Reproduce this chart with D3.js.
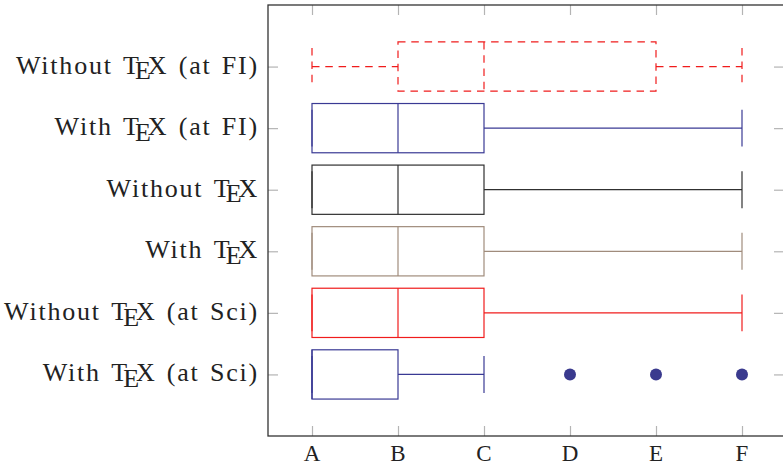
<!DOCTYPE html>
<html>
<head>
<meta charset="utf-8">
<script src="https://cdn.jsdelivr.net/npm/d3@7"></script>
<style>
  html, body { margin: 0; padding: 0; background: #fff; }
  svg { display: block; }
  .lbl { font-family: "Liberation Serif", "Times New Roman", serif; font-size: 26px; fill: #222; letter-spacing: 1.8px; word-spacing: 2px; }
  .tlbl { font-family: "Liberation Serif", "Times New Roman", serif; font-size: 23px; fill: #222; }
</style>
</head>
<body>
<svg id="chart" width="783" height="467"></svg>
<script>
// ---- data (bottom row first) ----
const rowPrefix = ["With ", "Without ", "With ", "Without ", "With ", "Without "];
const rowSuffix = [" (at Sci)", " (at Sci)", "", "", " (at FI)", " (at FI)"];
const xTickLabels = ["A", "B", "C", "D", "E", "F"];
const xTickValues = [1, 2, 3, 4, 5, 6];
const lowerWhisker  = [1, 1, 1, 1, 1, 1];
const lowerQuartile = [1, 1, 1, 1, 1, 2];
const median        = [1, 2, 2, 2, 2, 3];
const upperQuartile = [2, 3, 3, 3, 3, 5];
const upperWhisker  = [3, 6, 6, 6, 6, 6];
const outliers      = [[4, 5, 6], [], [], [], [], []];

// ---- styles ----
const rowColor = ["#3a3a94", "#f01c1c", "#a08c7c", "#303030", "#3a3a94", "#f01c1c"];
const rowDash  = [null, null, null, null, null, "7.5,5.8"];

const mLeft = 268, mTop = 5, mBottom = 436, mRight = 784;
const svg = d3.select("#chart");

const x = d3.scaleLinear().domain([0.5, 6.5]).range([mLeft + 1, mRight + 1]);
const y = d3.scaleLinear().domain([0, 7]).range([mBottom, mTop]);
const rows = d3.range(rowPrefix.length);
const rowPos = rows.map(i => i + 1);

const tickLen = 10, tickColor = "#b4b4b4";

// ticks (inward, on all four sides)
const axB = d3.axisBottom(x).tickValues(xTickValues).tickSize(-tickLen).tickFormat("");
const axT = d3.axisTop(x).tickValues(xTickValues).tickSize(-tickLen).tickFormat("");
const axL = d3.axisLeft(y).tickValues(rowPos).tickSize(-tickLen).tickFormat("");
const axR = d3.axisRight(y).tickValues(rowPos).tickSize(-tickLen).tickFormat("");
[[axB, `translate(0,${mBottom})`], [axT, `translate(0,${mTop})`], [axL, `translate(${mLeft},0)`], [axR, `translate(${mRight},0)`]]
  .forEach(([ax, tr]) => {
    const g = svg.append("g").attr("transform", tr).call(ax);
    g.select(".domain").remove();
    g.selectAll(".tick line").attr("stroke", tickColor).attr("stroke-width", 1.2);
  });

// frame
svg.append("rect")
  .attr("x", mLeft).attr("y", mTop)
  .attr("width", mRight - mLeft).attr("height", mBottom - mTop)
  .attr("fill", "none").attr("stroke", "#333").attr("stroke-width", 1.3);

// x tick labels
svg.append("g").selectAll("text").data(xTickValues).join("text")
  .attr("class", "tlbl")
  .attr("x", d => x(d)).attr("y", 461)
  .attr("text-anchor", "middle")
  .text((d, i) => xTickLabels[i]);

// y labels with TeX logo (kerning via letter-spacing so pieces don't overlap)
const lab = svg.append("g").selectAll("text").data(rows).join("text")
  .attr("class", "lbl")
  .attr("x", mLeft - 9)
  .attr("y", i => y(rowPos[i]) + 7)
  .attr("text-anchor", "end");
lab.each(function(i) {
  const t = d3.select(this);
  t.append("tspan").text(rowPrefix[i]);
  t.append("tspan").style("letter-spacing", "-0.15em").text("T");
  t.append("tspan").attr("dy", "0.22em").style("letter-spacing", "-0.12em").text("E");
  t.append("tspan").attr("dy", "-0.22em").text("X" + rowSuffix[i]);
});

// boxplots
const boxHalf = (y(0) - y(0.4));
const capHalf = (y(0) - y(0.3));
const gBoxes = svg.append("g").attr("fill", "none").attr("stroke-width", 1.2);
rows.forEach(i => {
  const cy = y(rowPos[i]);
  const bg = gBoxes.append("g").attr("stroke", rowColor[i]);
  if (rowDash[i]) bg.attr("stroke-dasharray", rowDash[i]);
  // whiskers
  bg.append("line").attr("x1", x(lowerWhisker[i])).attr("x2", x(lowerQuartile[i])).attr("y1", cy).attr("y2", cy);
  bg.append("line").attr("x1", x(upperQuartile[i])).attr("x2", x(upperWhisker[i])).attr("y1", cy).attr("y2", cy);
  // caps
  [lowerWhisker[i], upperWhisker[i]].forEach(v => {
    bg.append("line").attr("x1", x(v)).attr("x2", x(v)).attr("y1", cy - capHalf).attr("y2", cy + capHalf);
  });
  // box
  bg.append("rect")
    .attr("x", x(lowerQuartile[i])).attr("y", cy - boxHalf)
    .attr("width", x(upperQuartile[i]) - x(lowerQuartile[i])).attr("height", 2 * boxHalf);
  // median
  bg.append("line").attr("x1", x(median[i])).attr("x2", x(median[i])).attr("y1", cy - boxHalf).attr("y2", cy + boxHalf);
  // outliers
  svg.append("g").selectAll("circle").data(outliers[i]).join("circle")
    .attr("cx", d => x(d)).attr("cy", cy).attr("r", 6)
    .attr("fill", "#3a3a8e");
});
</script>
</body>
</html>
